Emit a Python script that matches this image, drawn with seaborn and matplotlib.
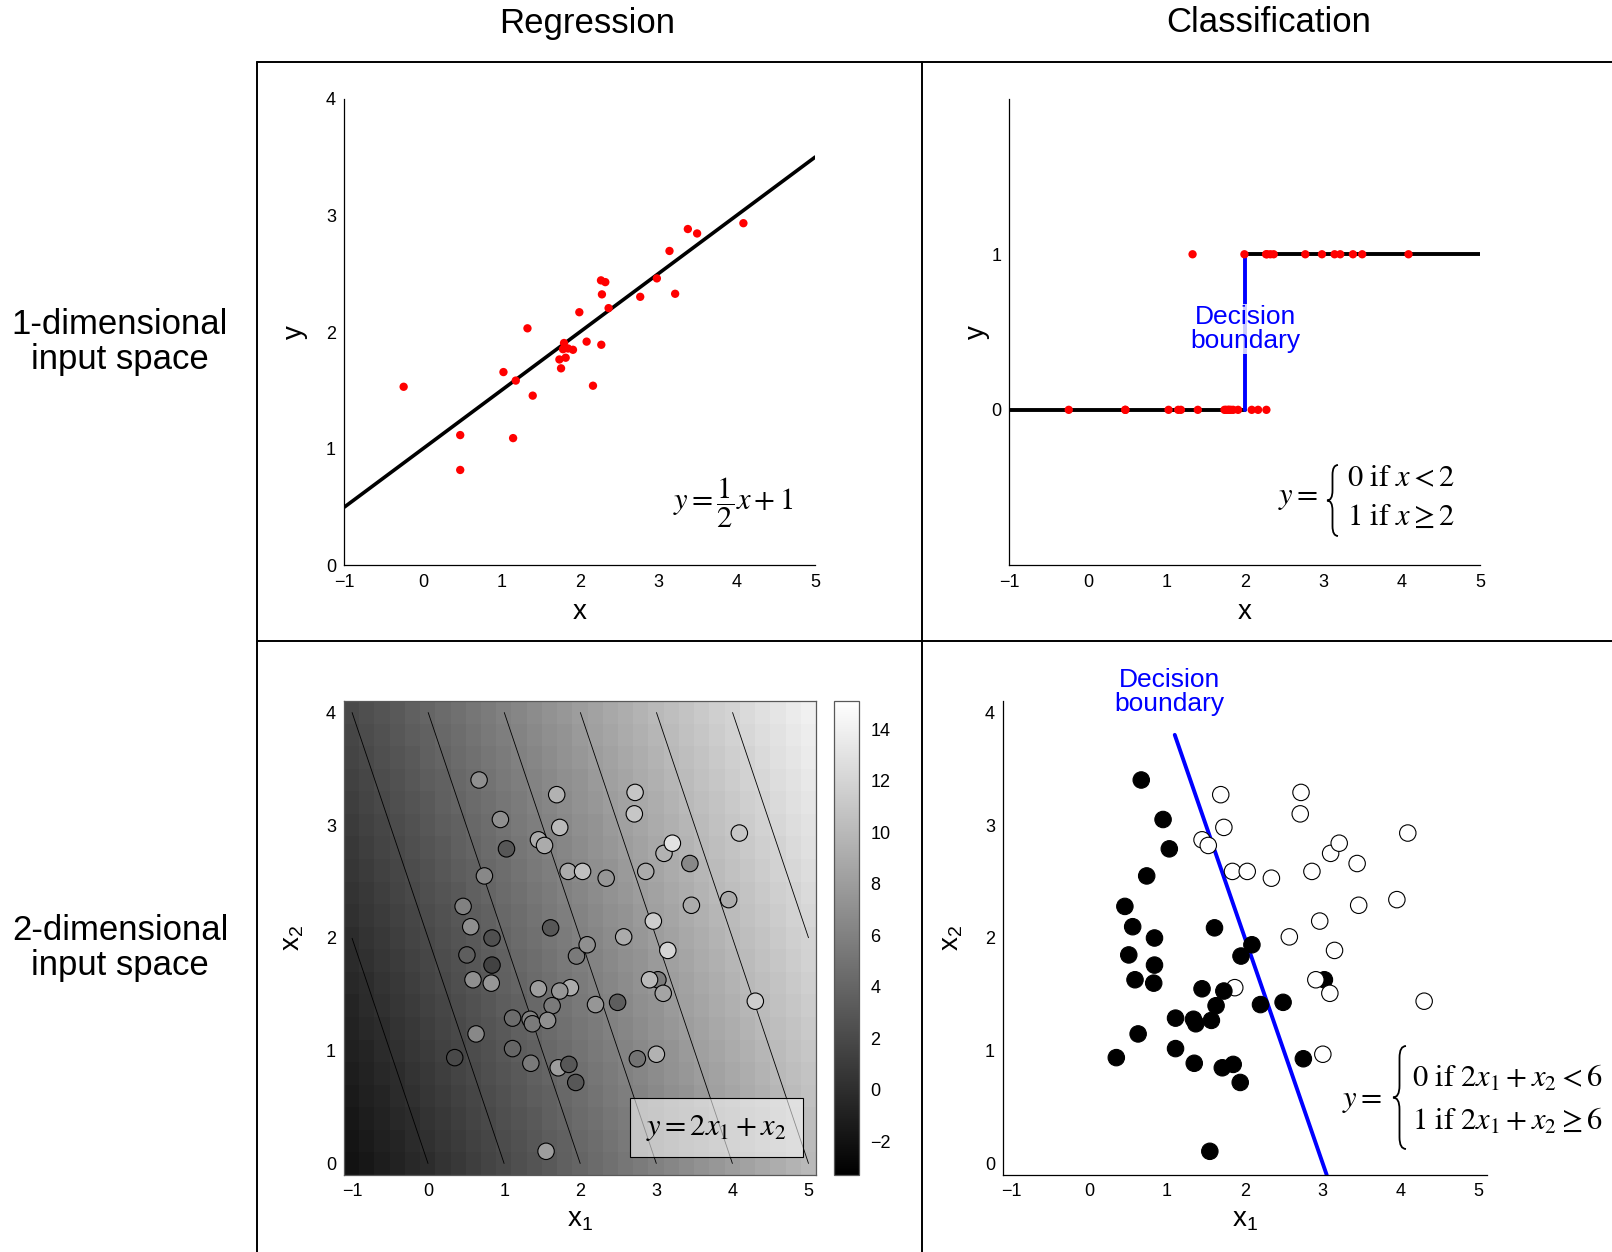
import numpy as np
import pandas as pd
import matplotlib
matplotlib.use("Agg")
import matplotlib.pyplot as plt
import matplotlib.transforms as mtransforms
import seaborn as sns
from matplotlib.patches import Rectangle, PathPatch
from matplotlib.path import Path
from matplotlib.lines import Line2D

sns.set_style("white")
plt.rcParams['font.family'] = ['Liberation Sans', 'DejaVu Sans']
plt.rcParams['mathtext.fontset'] = 'stix'
for k in ['text.color', 'axes.labelcolor', 'xtick.color', 'ytick.color', 'axes.edgecolor']:
    plt.rcParams[k] = 'black'

# ---------------- data ----------------
col_titles = ["Regression", "Classification"]
row_titles = ["1-dimensional\ninput space", "2-dimensional\ninput space"]

reg_x = [-0.245, 0.476, 0.476, 1.027, 1.184, 1.150, 1.333, 1.400, 1.740, 1.761,
         1.799, 1.786, 1.820, 1.850, 1.913, 1.994, 2.087, 2.168, 2.274, 2.270,
         2.325, 2.282, 2.367, 2.770, 2.982, 3.143, 3.215, 3.377, 3.495, 4.085]
reg_y = [1.531, 1.117, 0.818, 1.657, 1.584, 1.091, 2.032, 1.455, 1.765, 1.689,
         1.906, 1.853, 1.780, 1.859, 1.848, 2.170, 1.918, 1.540, 1.891, 2.443,
         2.428, 2.323, 2.205, 2.302, 2.460, 2.695, 2.328, 2.883, 2.845, 2.933]
cls_1d = [0, 0, 0, 0, 0, 0, 1, 0, 0, 0,
          0, 0, 0, 0, 0, 1, 0, 0, 0, 1,
          1, 1, 1, 1, 1, 1, 1, 1, 1, 1]

reg_slope = 0.5
reg_intercept = 1.0
line_x = [-1, 5]
threshold_1d = 2

pts_x1 = [1.87, 0.67, 0.95, 1.03, 0.74, 0.46, 0.56, 0.84, 0.51, 0.84, 0.59,
          0.83, 1.61, 1.45, 1.73, 1.63, 1.11, 1.34, 1.37, 1.57, 0.63, 0.35,
          1.11, 1.35, 1.71, 1.85, 1.94, 1.55, 1.95, 2.09, 2.20, 2.49, 2.75,
          3.02,
          1.69, 1.73, 1.45, 1.53, 1.84, 2.03, 2.34, 2.72, 2.71, 2.86, 3.10,
          3.21, 3.44, 4.09, 3.95, 3.46, 2.96, 2.57, 3.15, 2.91, 3.09, 4.30, 3.00]
pts_x2 = [1.56, 3.40, 3.05, 2.79, 2.55, 2.28, 2.10, 2.00, 1.85, 1.76, 1.63,
          1.60, 2.09, 1.55, 1.53, 1.40, 1.29, 1.28, 1.24, 1.27, 1.15, 0.94,
          1.02, 0.89, 0.85, 0.88, 0.72, 0.11, 1.84, 1.94, 1.41, 1.43, 0.93,
          1.63,
          3.27, 2.98, 2.87, 2.82, 2.59, 2.59, 2.53, 3.29, 3.10, 2.59, 2.75,
          2.84, 2.66, 2.93, 2.34, 2.29, 2.15, 2.01, 1.89, 1.63, 1.51, 1.44, 0.97]
pts_class = [1, 0, 0, 0, 0, 0, 0, 0, 0, 0, 0,
             0, 0, 0, 0, 0, 0, 0, 0, 0, 0, 0,
             0, 0, 0, 0, 0, 0, 0, 0, 0, 0, 0,
             0,
             1, 1, 1, 1, 1, 1, 1, 1, 1, 1, 1,
             1, 1, 1, 1, 1, 1, 1, 1, 1, 1, 1, 1]
pts_value = [9.0, 7.0, 7.0, 3.0, 6.5, 6.0, 7.0, 2.5, 3.5, 1.5, 7.0,
             7.5, 3.0, 8.0, 7.5, 5.5, 4.5, 6.0, 5.5, 7.0, 6.5, 2.0,
             4.0, 5.5, 8.0, 3.0, 3.0, 8.0, 5.5, 7.0, 7.5, 3.5, 5.0,
             5.5,
             9.5, 10.0, 9.0, 9.0, 9.0, 10.5, 7.5, 11.0, 11.0, 9.0, 9.5,
             13.0, 6.5, 11.0, 9.0, 9.0, 11.5, 9.0, 12.0, 10.0, 8.5, 11.5, 9.5]

w1, w2 = 2, 1
grid_x1 = np.linspace(-1, 5, 31)
grid_x2 = np.linspace(0, 4, 21)
contour_levels = [0, 2, 4, 6, 8, 10, 12]
cbar_ticks = [-2, 0, 2, 4, 6, 8, 10, 12, 14]
cmin, cmax = -3.3, 15.1
threshold_2d = 6
boundary_x2 = [3.8, -0.1]

xtick_labels = ["\u22121", "0", "1", "2", "3", "4", "5"]

# ---------------- figure ----------------
W, H = 1612, 1252
fig = plt.figure(figsize=(W / 100, H / 100), dpi=100)
# pixel transform: (x from left, y from top) -> figure
PX = mtransforms.Affine2D().scale(1 / W, -1 / H).translate(0, 1) + fig.transFigure


def ax_rect(l, r, t, b):
    return [l / W, 1 - b / H, (r - l) / W, (b - t) / H]


def brace(xl, xr, yt, yb, lw=1.3):
    ym = (yt + yb) / 2
    xm = (xl + xr) / 2
    d = (xr - xl) * 0.9
    verts = [(xr, yt), (xm, yt), (xm, yt + d), (xm, ym - d), (xm, ym), (xl, ym),
             (xm, ym), (xm, ym + d), (xm, yb - d), (xm, yb), (xr, yb)]
    codes = [Path.MOVETO, Path.CURVE3, Path.CURVE3, Path.LINETO, Path.CURVE3, Path.CURVE3,
             Path.CURVE3, Path.CURVE3, Path.LINETO, Path.CURVE3, Path.CURVE3]
    fig.add_artist(PathPatch(Path(verts, codes), transform=PX, fill=False,
                             edgecolor="black", lw=lw))


TICK = 13
LAB = 20


def style_axes(ax):
    for s in ["top", "right"]:
        ax.spines[s].set_visible(False)
    for s in ["left", "bottom"]:
        ax.spines[s].set_color("black")
        ax.spines[s].set_linewidth(0.9)
    ax.tick_params(direction="in", length=4, width=0.9, labelsize=TICK,
                   colors="black", pad=6)


# --- top-left: regression 1D
ax1 = fig.add_axes(ax_rect(344.4, 815.2, 98.7, 565.4))
lx = np.array(line_x, dtype=float)
sns.lineplot(x=lx, y=reg_slope * lx + reg_intercept, color="black", lw=2.6,
             estimator=None, ax=ax1)
sns.scatterplot(x=reg_x, y=reg_y, color="red", s=36, edgecolor="none", ax=ax1, zorder=3)
ax1.set_xlim(-1, 5)
ax1.set_ylim(0, 4)
ax1.set_xticks(range(-1, 6))
ax1.set_yticks(range(0, 5))
ax1.set_xticklabels(xtick_labels)
style_axes(ax1)
ax1.set_xlabel("x", fontsize=LAB, labelpad=6)
ax1.set_ylabel("y", fontsize=LAB, labelpad=13)
ax1.text(3.95, 0.54, r"$y=\dfrac{1}{2}x+1$", fontsize=22, ha="center", va="center")

# --- top-right: classification 1D
ax2 = fig.add_axes(ax_rect(1009.5, 1480.3, 98.7, 565.4))
sns.lineplot(x=[-1, threshold_1d], y=[0, 0], color="black", lw=2.8, estimator=None, ax=ax2)
sns.lineplot(x=[threshold_1d, 5], y=[1, 1], color="black", lw=2.8, estimator=None, ax=ax2)
sns.lineplot(x=[threshold_1d, threshold_1d], y=[0, 1], color="blue", lw=2.8,
             estimator=None, sort=False, ax=ax2)
sns.scatterplot(x=reg_x, y=cls_1d, color="red", s=36, edgecolor="none", ax=ax2, zorder=3)
ax2.set_xlim(-1, 5)
ax2.set_ylim(-1, 2)
ax2.set_xticks(range(-1, 6))
ax2.set_yticks([0, 1])
ax2.set_xticklabels(xtick_labels)
style_axes(ax2)
ax2.set_xlabel("x", fontsize=LAB, labelpad=6)
ax2.set_ylabel("y", fontsize=LAB, labelpad=1)
ax2.text(2.01, 0.52, "Decision\nboundary", color="blue", fontsize=19, ha="center",
         va="center", linespacing=1.0, zorder=5,
         bbox=dict(facecolor="white", alpha=0.8, edgecolor="none", pad=1))

# equation (top-right)
fig.text(1318 / W, 1 - 504 / H, r"$y=$", fontsize=22, ha="right", va="baseline")
brace(1327, 1338, 465, 536)
fig.text(1347 / W, 1 - 486 / H, r"$0\ \mathrm{if}\ x<2$", fontsize=22, ha="left", va="baseline")
fig.text(1347 / W, 1 - 525 / H, r"$1\ \mathrm{if}\ x\geq 2$", fontsize=22, ha="left", va="baseline")

# --- bottom-left: regression 2D
ax3 = fig.add_axes(ax_rect(344.4, 816.2, 701, 1175))
X1g, X2g = np.meshgrid(grid_x1, grid_x2)
Z = w1 * X1g + w2 * X2g
im = ax3.imshow(Z, extent=[-1.1, 5.1, -0.1, 4.1], origin="lower", cmap="gray",
                vmin=cmin, vmax=cmax, aspect="auto", interpolation="nearest")
ax3.contour(grid_x1, grid_x2, Z, levels=contour_levels, colors="black", linewidths=0.6)
df2 = pd.DataFrame({"x1": pts_x1, "x2": pts_x2, "val": pts_value, "cls": pts_class})
sns.scatterplot(data=df2, x="x1", y="x2", hue="val", palette="gray",
                hue_norm=(cmin, cmax), s=140, edgecolor="black", linewidth=0.8,
                legend=False, ax=ax3, zorder=3)
ax3.set_xlim(-1.1, 5.1)
ax3.set_ylim(-0.1, 4.1)
ax3.set_xticks(range(-1, 6))
ax3.set_yticks(range(0, 5))
ax3.set_xticklabels(xtick_labels)
for s in ax3.spines.values():
    s.set_color("0.35")
    s.set_linewidth(0.9)
ax3.tick_params(length=0, labelsize=TICK, pad=6)
ax3.set_xlabel(r"$\mathregular{x_1}$", fontsize=LAB, labelpad=5)
ax3.set_ylabel(r"$\mathregular{x_2}$", fontsize=LAB, labelpad=14)
ax3.add_patch(Rectangle((0.606, 0.038), 0.365, 0.124, transform=ax3.transAxes,
                        facecolor=(1, 1, 1, 0.55), edgecolor="black", lw=0.8, zorder=4))
ax3.text(0.7885, 0.1, r"$y=2x_1+x_2$", transform=ax3.transAxes, fontsize=22,
         ha="center", va="center", zorder=5)

cax = fig.add_axes(ax_rect(833.7, 859.4, 701, 1175))
cb = fig.colorbar(im, cax=cax, ticks=cbar_ticks)
cb.ax.set_yticklabels(["\u22122" if t < 0 else str(t) for t in cbar_ticks])
cb.ax.tick_params(length=0, labelsize=TICK, pad=8)
cb.outline.set_edgecolor("0.35")
cb.outline.set_linewidth(0.9)

# --- bottom-right: classification 2D
ax4 = fig.add_axes(ax_rect(1003.3, 1486.5, 701, 1175))
bx2 = np.array(boundary_x2, dtype=float)
sns.lineplot(x=(threshold_2d - w2 * bx2) / w1, y=bx2, color="blue", lw=2.8,
             sort=False, estimator=None, ax=ax4)
sns.scatterplot(data=df2, x="x1", y="x2", hue="cls", palette={0: "black", 1: "white"},
                s=140, edgecolor="black", linewidth=0.8, legend=False, ax=ax4, zorder=3)
ax4.set_xlim(-1.1, 5.1)
ax4.set_ylim(-0.1, 4.1)
ax4.set_xticks(range(-1, 6))
ax4.set_yticks(range(0, 5))
ax4.set_xticklabels(xtick_labels)
style_axes(ax4)
ax4.set_xlabel(r"$\mathregular{x_1}$", fontsize=LAB, labelpad=5)
ax4.set_ylabel(r"$\mathregular{x_2}$", fontsize=LAB, labelpad=14)
ax4.text(1.03, 4.18, "Decision\nboundary", color="blue", fontsize=19, ha="center",
         va="center", linespacing=1.0, clip_on=False)

# equation (bottom-right)
fig.text(1382 / W, 1 - 1107 / H, r"$y=$", fontsize=22, ha="right", va="baseline")
brace(1393, 1406, 1046, 1149)
fig.text(1412 / W, 1 - 1087 / H, r"$0\ \mathrm{if}\ 2x_1+x_2<6$", fontsize=22,
         ha="left", va="baseline")
fig.text(1412 / W, 1 - 1130 / H, r"$1\ \mathrm{if}\ 2x_1+x_2\geq 6$", fontsize=22,
         ha="left", va="baseline")

# --- titles and row labels
fig.text(587 / W, 1 - 23 / H, col_titles[0], fontsize=25, ha="center", va="center")
fig.text(1268.6 / W, 1 - 23 / H, col_titles[1], fontsize=25, ha="center", va="center")
fig.text(120 / W, 1 - 342 / H, row_titles[0], fontsize=25, ha="center", va="center",
         linespacing=1.05)
fig.text(120 / W, 1 - 948 / H, row_titles[1], fontsize=25, ha="center", va="center",
         linespacing=1.05)


# --- table grid lines
def fline(x0, y0, x1, y1):
    fig.add_artist(Line2D([x0, x1], [y0, y1], transform=PX, color="black", lw=1.4))


fline(257, 61.7, W, 61.7)
fline(257, 640.5, W, 640.5)
fline(257, 61.7, 257, H)
fline(922, 61.7, 922, H)

fig.savefig("out.png", dpi=100)
